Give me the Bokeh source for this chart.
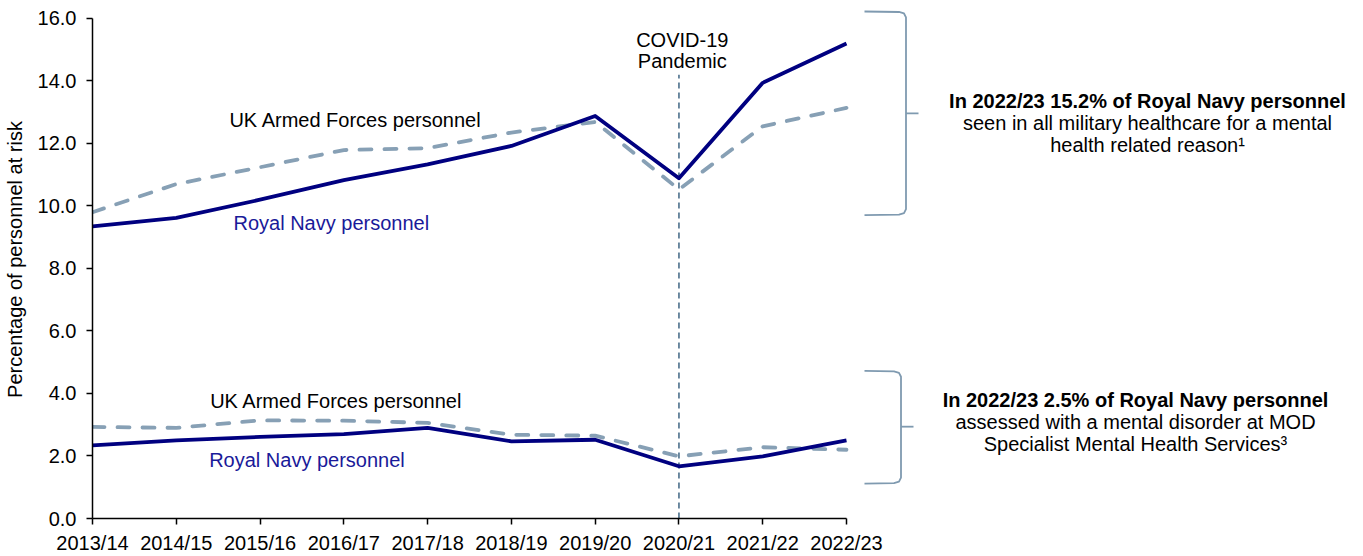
from bokeh.plotting import figure
from bokeh.models import Range1d, FixedTicker, Label, PrintfTickFormatter
from bokeh.embed import file_html
from bokeh.resources import INLINE

# ---- data ----
years = ["2013/14", "2014/15", "2015/16", "2016/17", "2017/18",
         "2018/19", "2019/20", "2020/21", "2021/22", "2022/23"]
rn_healthcare = [9.35, 9.62, 10.2, 10.83, 11.33, 11.92, 12.88, 10.89, 13.94, 15.2]
ukaf_healthcare = [9.8, 10.7, 11.24, 11.79, 11.85, 12.35, 12.69, 10.53, 12.55, 13.14]
rn_smhs = [2.34, 2.5, 2.61, 2.7, 2.9, 2.47, 2.52, 1.67, 1.99, 2.5]
ukaf_smhs = [2.93, 2.9, 3.14, 3.13, 3.06, 2.68, 2.65, 1.99, 2.28, 2.2]
y_ticks = [0, 2, 4, 6, 8, 10, 12, 14, 16]
y_max = 16
covid_year = "2020/21"
covid_line_top = 14.2

NAVY = "#000080"
GREY = "#87a0b5"
BRACE = "#7f9ab0"
VLINE = "#5f7f98"
FONT = "Liberation Sans"
FS = "20px"

W, H = 1363, 556
# layout of the axes area in page pixels
AX_LEFT, AX_RIGHT, AX_TOP, AX_BOTTOM = 92, 846, 18, 519

xs = list(range(len(years)))
n = len(years) - 1
ppx = (AX_RIGHT - AX_LEFT) / n          # pixels per category step
ppy = (AX_BOTTOM - AX_TOP) / y_max      # pixels per unit

def dx(px):
    return (px - AX_LEFT) / ppx

def dy(py):
    return (AX_BOTTOM - py) / ppy

p = figure(width=W, height=H, output_backend="svg", toolbar_location=None,
           x_range=Range1d(0, dx(W)), y_range=Range1d(0, dy(0)),
           min_border_left=AX_LEFT, min_border_right=0, min_border_top=0,
           min_border_bottom=H - AX_BOTTOM)
p.outline_line_color = None
p.grid.visible = False
p.background_fill_color = "white"
p.border_fill_color = "white"

# axes
p.xaxis.ticker = FixedTicker(ticks=xs)
p.xaxis.major_label_overrides = {i: y for i, y in enumerate(years)}
p.xaxis.bounds = (0, n)
p.yaxis.ticker = FixedTicker(ticks=y_ticks)
p.yaxis.formatter = PrintfTickFormatter(format="%.1f")
p.yaxis.bounds = (0, y_max)
for ax in (p.xaxis, p.yaxis):
    ax.axis_line_color = "black"
    ax.axis_line_width = 1.5
    ax.major_tick_line_color = "black"
    ax.major_tick_line_width = 1.5
    ax.major_tick_in = 0
    ax.major_tick_out = 6
    ax.minor_tick_line_color = None
    ax.major_label_text_font = FONT
    ax.major_label_text_font_size = FS
    ax.major_label_text_color = "black"
p.xaxis.major_label_standoff = 7
p.yaxis.major_label_standoff = 10
p.yaxis.axis_label = "Percentage of personnel at risk"
p.yaxis.axis_label_text_font = FONT
p.yaxis.axis_label_text_font_size = FS
p.yaxis.axis_label_text_font_style = "normal"
p.yaxis.axis_label_text_color = "black"
p.yaxis.axis_label_standoff = 9

# covid line
cx = years.index(covid_year)
p.segment(x0=[cx], y0=[0], x1=[cx], y1=[covid_line_top], line_color=VLINE,
          line_width=1.8, line_dash="6 4")

# series
p.line(xs, ukaf_healthcare, line_color=GREY, line_width=3.8, line_dash="12 13", line_cap="round")
p.line(xs, ukaf_smhs, line_color=GREY, line_width=3.8, line_dash="12 13", line_cap="round")
p.line(xs, rn_healthcare, line_color=NAVY, line_width=3.8, line_join="round")
p.line(xs, rn_smhs, line_color=NAVY, line_width=3.8, line_join="round")

def lab(x, y, text, color="black", style="normal"):
    p.add_layout(Label(x=x, y=y, text=text,
                       text_font=FONT, text_font_size=FS, text_color=color,
                       text_font_style=style, text_align="center", text_baseline="middle"))

lab(3.14, 12.74, "UK Armed Forces personnel")
lab(2.85, 9.45, "Royal Navy personnel", color="#1a1a99")
lab(2.91, 3.77, "UK Armed Forces personnel")
lab(2.56, 1.88, "Royal Navy personnel", color="#1a1a99")
lab(cx + 0.04, 15.3, "COVID-19")
lab(cx + 0.04, 14.63, "Pandemic")

def brace(x_left, x_vert, x_tick, y_top, y_mid, y_bot):
    path = [(x_left, y_top), (x_vert - 7, y_top + 0.5), (x_vert - 2, y_top + 2), (x_vert, y_top + 6),
            (x_vert, y_bot - 6), (x_vert - 2, y_bot - 2), (x_vert - 7, y_bot - 0.5), (x_left, y_bot)]
    tick = [(x_vert, y_mid), (x_tick, y_mid)]
    p.multi_line(xs=[[dx(a) for a, b in path], [dx(a) for a, b in tick]],
                 ys=[[dy(b) for a, b in path], [dy(b) for a, b in tick]],
                 line_color=BRACE, line_width=1.8, line_join="round")

brace(864, 905.5, 918, 11, 113, 215)
brace(864, 900.5, 913, 371, 427, 484)

def note(px, py, text, style="normal"):
    lab(dx(px), dy(py), text, style=style)

note(1147, 101, "In 2022/23 15.2% of Royal Navy personnel", style="bold")
note(1147, 123, "seen in all military healthcare for a mental")
note(1147, 145, "health related reason\u00b9")
note(1135, 400, "In 2022/23 2.5% of Royal Navy personnel", style="bold")
note(1135, 422, "assessed with a mental disorder at MOD")
note(1135, 444, "Specialist Mental Health Services\u00b3")

open("out.html", "w").write(file_html(p, INLINE))
